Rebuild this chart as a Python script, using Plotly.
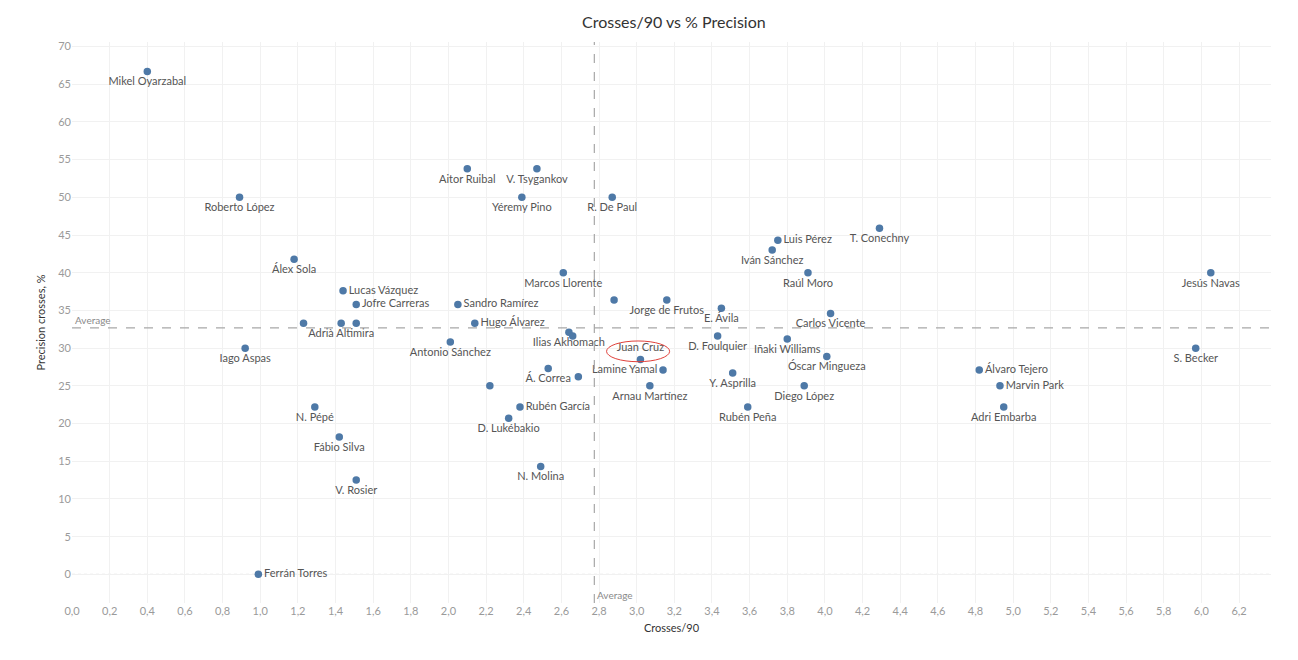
import plotly.graph_objects as go

# player, crosses per 90, cross precision %
players = [
    "Mikel Oyarzabal", "Roberto López", "Aitor Ruibal", "V. Tsygankov", "Yéremy Pino",
    "R. De Paul", "Luis Pérez", "T. Conechny", "Iván Sánchez", "Raúl Moro",
    "Jesús Navas", "Álex Sola", "Marcos Llorente", "Lucas Vázquez", "Jofre Carreras",
    "Sandro Ramírez", "", "Jorge de Frutos", "E. Ávila", "Carlos Vicente",
    "", "Adrià Altimira", "", "Hugo Álvarez", "Ilias Akhomach",
    "", "D. Foulquier", "Iñaki Williams", "Antonio Sánchez", "Iago Aspas",
    "S. Becker", "Óscar Mingueza", "Juan Cruz", "Lamine Yamal", "Á. Correa",
    "", "Y. Asprilla", "Álvaro Tejero", "", "Arnau Martínez",
    "Diego López", "Marvin Park", "Rubén García", "N. Pépé", "Rubén Peña",
    "Adri Embarba", "D. Lukébakio", "Fábio Silva", "N. Molina", "V. Rosier",
    "Ferrán Torres",
]
crosses_90 = [
    0.40, 0.89, 2.10, 2.47, 2.39,
    2.87, 3.75, 4.29, 3.72, 3.91,
    6.05, 1.18, 2.61, 1.44, 1.51,
    2.05, 2.88, 3.16, 3.45, 4.03,
    1.23, 1.43, 1.51, 2.14, 2.64,
    2.66, 3.43, 3.80, 2.01, 0.92,
    5.97, 4.01, 3.02, 3.14, 2.53,
    2.69, 3.51, 4.82, 2.22, 3.07,
    3.89, 4.93, 2.38, 1.29, 3.59,
    4.95, 2.32, 1.42, 2.49, 1.51,
    0.99,
]
precision = [
    66.7, 50.0, 53.8, 53.8, 50.0,
    50.0, 44.3, 45.9, 43.0, 40.0,
    40.0, 41.8, 40.0, 37.6, 35.8,
    35.8, 36.4, 36.4, 35.3, 34.6,
    33.3, 33.3, 33.3, 33.3, 32.1,
    31.6, 31.6, 31.2, 30.8, 30.0,
    30.0, 28.9, 28.5, 27.1, 27.3,
    26.2, 26.7, 27.1, 25.0, 25.0,
    25.0, 25.0, 22.2, 22.2, 22.2,
    22.2, 20.7, 18.2, 14.3, 12.5,
    0.0,
]
label_side = [
    "bottom center", "bottom center", "bottom center", "bottom center", "bottom center",
    "bottom center", "middle right", "bottom center", "bottom center", "bottom center",
    "bottom center", "bottom center", "bottom center", "middle right", "middle right",
    "middle right", "bottom center", "bottom center", "bottom center", "bottom center",
    "bottom center", "bottom center", "bottom center", "middle right", "bottom center",
    "bottom center", "bottom center", "bottom center", "bottom center", "bottom center",
    "bottom center", "bottom center", "top center", "middle left", "bottom center",
    "bottom center", "bottom center", "middle right", "bottom center", "bottom center",
    "bottom center", "middle right", "middle right", "bottom center", "bottom center",
    "bottom center", "bottom center", "bottom center", "bottom center", "bottom center",
    "middle right",
]

avg_crosses = 2.775
avg_precision = 32.7
highlight = "Juan Cruz"

font_name = "Lato"
tick_grey = "#9a9a9a"

fig = go.Figure()
fig.add_trace(
    go.Scatter(
        x=crosses_90,
        y=precision,
        mode="markers+text",
        text=players,
        textposition=label_side,
        textfont=dict(family=font_name, size=11, color="#555555"),
        marker=dict(color="#4e79a7", size=7.5),
        hoverinfo="skip",
        showlegend=False,
    )
)

# reference lines
fig.add_hline(y=0, line=dict(color="#d0d0d0", width=1, dash="dot"), layer="below")
fig.add_hline(y=avg_precision, line=dict(color="#a8a8a8", width=1.2, dash="dash"))
fig.add_vline(x=avg_crosses, line=dict(color="#a8a8a8", width=1.2, dash="dash"))
fig.add_annotation(
    x=0, xref="paper", y=avg_precision, yref="y", text="Average", showarrow=False,
    xanchor="left", yanchor="bottom", xshift=1,
    font=dict(family=font_name, size=10, color="#8a8a8a"),
)
fig.add_annotation(
    x=avg_crosses, xref="x", y=0, yref="paper", text="Average", showarrow=False,
    xanchor="left", yanchor="bottom", xshift=1,
    font=dict(family=font_name, size=10, color="#8a8a8a"),
)

# red ring round the highlighted player's label
hx = crosses_90[players.index(highlight)]
hy = precision[players.index(highlight)]
fig.add_shape(
    type="circle", xref="x", yref="y",
    x0=hx - 0.18, x1=hx + 0.155, y0=hy - 0.3, y1=hy + 2.45,
    line=dict(color="#e0403a", width=1),
)

fig.update_layout(
    width=1298,
    height=660,
    paper_bgcolor="white",
    plot_bgcolor="white",
    separators=",.",
    font=dict(family=font_name, color="#333333"),
    title=dict(
        text="Crosses/90 vs % Precision",
        x=0.513, xanchor="center", y=0.978, yanchor="middle",
        font=dict(family=font_name, size=16, color="#333333"),
    ),
    margin=dict(l=64, r=35, t=34, b=65),
    xaxis=dict(
        range=[0, 6.37],
        dtick=0.2,
        tick0=0,
        tickformat=".1f",
        showgrid=True,
        gridcolor="#f1f1f1",
        zeroline=False,
        showline=False,
        ticks="",
        tickfont=dict(family=font_name, size=11, color=tick_grey),
        title=dict(text="Crosses/90", standoff=8,
                   font=dict(family=font_name, size=11, color="#333333")),
    ),
    yaxis=dict(
        range=[-3.8, 70.6],
        dtick=5,
        tick0=0,
        showgrid=True,
        gridcolor="#f1f1f1",
        zeroline=False,
        showline=False,
        ticks="",
        tickfont=dict(family=font_name, size=11, color=tick_grey),
        title=dict(text="Precision crosses, %", standoff=10,
                   font=dict(family=font_name, size=11, color="#333333")),
    ),
)

fig.write_html("out.html")
